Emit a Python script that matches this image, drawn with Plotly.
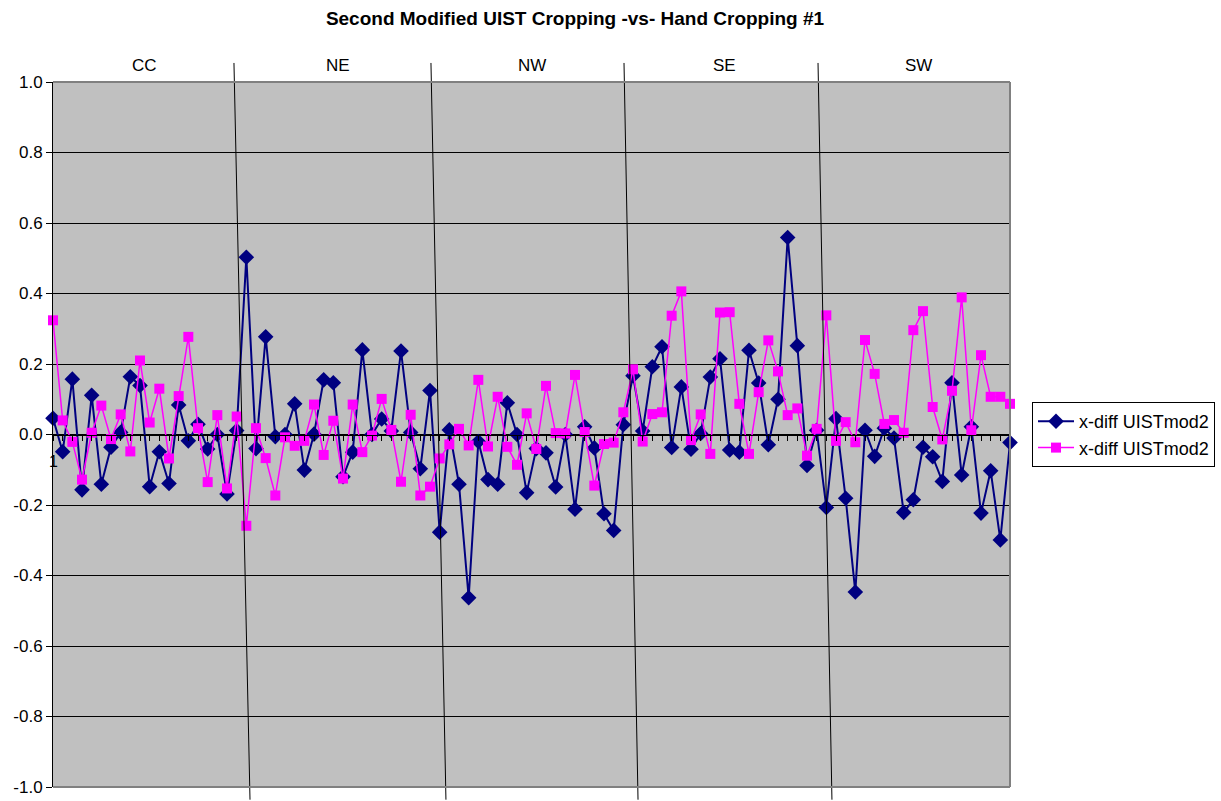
import plotly.graph_objects as go

title_text = "Second Modified UIST Cropping -vs- Hand Cropping #1"
series_names = ["x-diff UISTmod2", "x-diff UISTmod2"]
groups = ["CC", "NE", "NW", "SE", "SW"]
group_size = 20

blue = [
    0.046, -0.049, 0.157, -0.157, 0.111, -0.141, -0.036, 0.006, 0.164, 0.139,
    -0.148, -0.049, -0.139, 0.084, -0.018, 0.029, -0.041, 0.000, -0.169, 0.011,
    0.503, -0.040, 0.277, -0.006, 0.000, 0.087, -0.101, 0.001, 0.155, 0.147,
    -0.120, -0.050, 0.240, 0.000, 0.044, 0.010, 0.237, 0.006, -0.097, 0.125,
    -0.277, 0.013, -0.141, -0.463, -0.020, -0.128, -0.141, 0.090, 0.000, -0.165,
    -0.040, -0.052, -0.149, 0.000, -0.212, 0.022, -0.038, -0.225, -0.272, 0.028,
    0.167, 0.010, 0.192, 0.249, -0.037, 0.135, -0.042, 0.003, 0.163, 0.215,
    -0.044, -0.050, 0.239, 0.146, -0.029, 0.100, 0.559, 0.252, -0.088, 0.012,
    -0.207, 0.045, -0.181, -0.447, 0.012, -0.062, 0.018, -0.010, -0.221, -0.185,
    -0.036, -0.063, -0.133, 0.147, -0.115, 0.022, -0.223, -0.103, -0.299, -0.023,
]

pink = [
    0.324, 0.040, -0.021, -0.128, 0.005, 0.082, -0.013, 0.057, -0.048, 0.210,
    0.034, 0.130, -0.068, 0.109, 0.277, 0.018, -0.135, 0.055, -0.153, 0.051,
    -0.259, 0.018, -0.067, -0.173, -0.008, -0.032, -0.018, 0.085, -0.058, 0.039,
    -0.125, 0.085, -0.050, -0.003, 0.101, 0.013, -0.134, 0.056, -0.173, -0.148,
    -0.068, -0.028, 0.016, -0.031, 0.155, -0.034, 0.107, -0.035, -0.086, 0.060,
    -0.041, 0.138, 0.004, 0.003, 0.169, 0.007, -0.145, -0.027, -0.023, 0.063,
    0.185, -0.020, 0.058, 0.063, 0.337, 0.406, -0.016, 0.057, -0.055, 0.346,
    0.347, 0.087, -0.055, 0.120, 0.267, 0.179, 0.055, 0.074, -0.060, 0.016,
    0.338, -0.018, 0.035, -0.022, 0.268, 0.172, 0.030, 0.041, 0.005, 0.296,
    0.350, 0.078, -0.014, 0.124, 0.389, 0.012, 0.225, 0.107, 0.107, 0.087,
]

y_tick_vals = [1.0, 0.8, 0.6, 0.4, 0.2, 0.0, -0.2, -0.4, -0.6, -0.8, -1.0]
y_tick_labels = ["1.0", "0.8", "0.6", "0.4", "0.2", "0.0", "-0.2", "-0.4", "-0.6", "-0.8", "-1.0"]

# hand-drawn group divider lines (category positions at top and bottom ends)
divider_top = [18.72, 39.10, 59.07, 79.14]
divider_bottom = [20.38, 40.65, 60.52, 80.58]

n = len(blue)
x = list(range(n))
FONT = "Liberation Sans, Arial, sans-serif"

fig = go.Figure()
fig.add_trace(go.Scatter(
    x=x, y=blue, mode="lines+markers", name=series_names[0],
    line=dict(color="#000080", width=2),
    marker=dict(symbol="diamond", size=12, color="#000080"),
    cliponaxis=False,
))
fig.add_trace(go.Scatter(
    x=x, y=pink, mode="lines+markers", name=series_names[1],
    line=dict(color="#FF00FF", width=1.5),
    marker=dict(symbol="square", size=10, color="#FF00FF"),
    cliponaxis=False,
))

shapes = []
xmax = n - 1
for t, b in zip(divider_top, divider_bottom):
    shapes.append(dict(type="line", xref="paper", yref="paper",
                       x0=t / xmax, x1=b / xmax, y0=1.027, y1=-0.018,
                       line=dict(color="black", width=1), layer="above"))
# plot-area border (grey) on top, right and bottom
for (x0, y0, x1, y1) in [(0, 1, 1, 1), (1, 1, 1, 0), (0, 0, 1, 0)]:
    shapes.append(dict(type="line", xref="paper", yref="paper",
                       x0=x0, y0=y0, x1=x1, y1=y1,
                       line=dict(color="#808080", width=2), layer="above"))

annotations = []
for g, name in enumerate(groups):
    annotations.append(dict(text=name, xref="x", yref="paper",
                            x=g * group_size + (group_size - 1) / 2, y=1.024,
                            showarrow=False, font=dict(family=FONT, size=17, color="black"),
                            yanchor="middle"))
annotations.append(dict(text="1", xref="x", yref="y", x=0, y=0, yshift=-27,
                        showarrow=False, font=dict(family=FONT, size=16, color="black")))

fig.update_layout(
    width=1221, height=801, autosize=False,
    margin=dict(l=53, r=211, t=82, b=14, autoexpand=False),
    paper_bgcolor="white", plot_bgcolor="#C0C0C0",
    title=dict(text="<b>" + title_text + "</b>", x=575 / 1221, xanchor="center",
               y=1 - 18 / 801, yanchor="middle", automargin=False,
               font=dict(family=FONT, size=19, color="black")),
    font=dict(family=FONT, color="black"),
    xaxis=dict(range=[0, xmax], showgrid=False, zeroline=False, automargin=False,
               anchor="free", position=0.5, showline=True, linecolor="black", linewidth=1,
               ticks="outside", ticklen=5, tickcolor="black", tick0=0, dtick=1,
               showticklabels=False),
    yaxis=dict(range=[-1, 1], tickvals=y_tick_vals, ticktext=y_tick_labels,
               showgrid=True, gridcolor="black", gridwidth=1, zeroline=False,
               automargin=False,
               showline=True, linecolor="black", linewidth=1,
               ticks="outside", ticklen=6, tickcolor="black",
               tickfont=dict(family=FONT, size=17, color="black")),
    legend=dict(x=1.023, xanchor="left", y=0.5, yanchor="middle",
                bordercolor="black", borderwidth=1, bgcolor="white",
                font=dict(family=FONT, size=18, color="black"), itemwidth=36),
    showlegend=True,
    shapes=shapes,
    annotations=annotations,
)

fig.write_html("out.html", config={"displayModeBar": False},
               post_script="document.body.style.margin='0px';document.body.style.overflow='hidden';")
